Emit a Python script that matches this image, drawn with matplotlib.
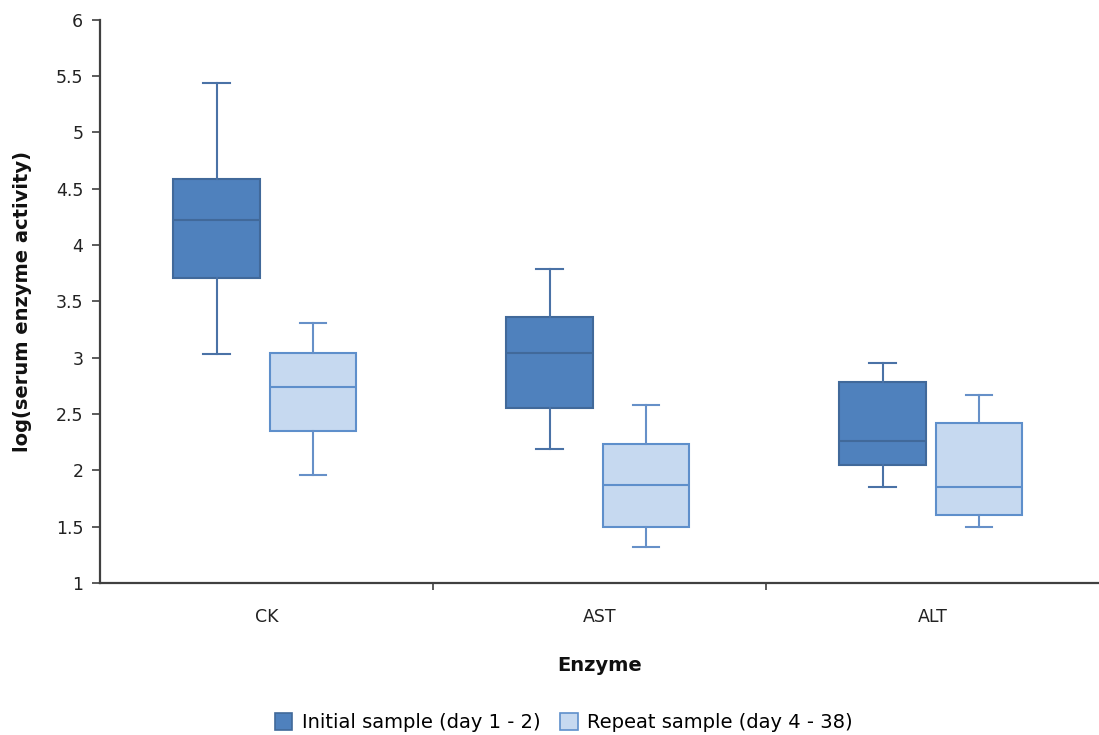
import numpy as np
import matplotlib.pyplot as plt
from matplotlib.patches import Patch

plt.rcParams['font.family'] = ['DejaVu Sans']

# ---- data ----
enzymes = ['CK', 'AST', 'ALT']
series = ['Initial sample (day 1 - 2)', 'Repeat sample (day 4 - 38)']

initial_low = [3.03, 2.19, 1.85]
initial_q1 = [3.71, 2.55, 2.05]
initial_med = [4.22, 3.04, 2.26]
initial_q3 = [4.59, 3.36, 2.78]
initial_high = [5.44, 3.79, 2.95]

repeat_low = [1.96, 1.32, 1.50]
repeat_q1 = [2.35, 1.50, 1.60]
repeat_med = [2.74, 1.87, 1.85]
repeat_q3 = [3.04, 2.23, 2.42]
repeat_high = [3.31, 2.58, 2.67]

dark_fill, dark_edge, dark_wh = '#4F81BD', '#41699A', '#4A72A6'
light_fill, light_edge, light_wh = '#C6D9F0', '#5E8FCB', '#6690C8'
axis_col = '#404040'


def make_stats(low, q1, med, q3, high):
    return [dict(whislo=a, q1=b, med=c, q3=d, whishi=e, fliers=[])
            for a, b, c, d, e in zip(low, q1, med, q3, high)]


fig = plt.figure(figsize=(10.99, 7.35), dpi=100)
ax = fig.add_axes([0.091, 0.207, 0.909, 0.766])

x = np.arange(len(enzymes))
width = 0.26

groups = [
    (make_stats(initial_low, initial_q1, initial_med, initial_q3, initial_high),
     x - 0.15, dark_fill, dark_edge, dark_wh),
    (make_stats(repeat_low, repeat_q1, repeat_med, repeat_q3, repeat_high),
     x + 0.14, light_fill, light_edge, light_wh),
]
for stats, pos, fill, edge, wh in groups:
    ax.bxp(stats, positions=pos, widths=width, patch_artist=True,
           showfliers=False, manage_ticks=False,
           boxprops=dict(facecolor=fill, edgecolor=edge, linewidth=1.5),
           medianprops=dict(color=edge, linewidth=1.5),
           whiskerprops=dict(color=wh, linewidth=1.5),
           capprops=dict(color=wh, linewidth=1.5),
           capwidths=0.08)

ax.set_xlim(-0.5, 2.5)
ax.set_ylim(1, 6)
yt = np.arange(1, 6.01, 0.5)
ax.set_yticks(yt)
ax.set_yticklabels([f'{v:g}' for v in yt])
ax.set_xticks(x)
ax.set_xticklabels(enzymes)
ax.set_xticks([0.5, 1.5], minor=True)
ax.tick_params(axis='x', which='major', length=0, pad=18, labelsize=12.5, labelcolor='#222222')
ax.tick_params(axis='x', which='minor', length=5, width=1.2, color=axis_col, direction='out')
ax.tick_params(axis='y', length=6, width=1.2, color=axis_col, labelsize=12.5, labelcolor='#222222', pad=6)

for s in ['top', 'right']:
    ax.spines[s].set_visible(False)
for s in ['left', 'bottom']:
    ax.spines[s].set_color(axis_col)
    ax.spines[s].set_linewidth(1.6)

ax.set_ylabel('log(serum enzyme activity)', fontsize=14, fontweight='bold', labelpad=17, color='#111111')
ax.set_xlabel('Enzyme', fontsize=14, fontweight='bold', labelpad=22, color='#111111')

handles = [Patch(facecolor=dark_fill, edgecolor=dark_edge, linewidth=1.2, label=series[0]),
           Patch(facecolor=light_fill, edgecolor=light_edge, linewidth=1.2, label=series[1])]
fig.legend(handles=handles, loc='center', bbox_to_anchor=(0.513, 0.017), ncol=2,
           frameon=False, fontsize=14, handlelength=0.9, handleheight=1.0,
           handletextpad=0.5, columnspacing=1.0)

fig.savefig('out.png', dpi=100)
